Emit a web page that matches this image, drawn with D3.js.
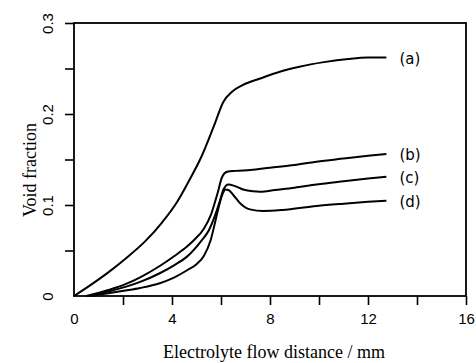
<!DOCTYPE html>
<html>
<head>
  <title>Void fraction</title>
  <script src="https://d3js.org/d3.v7.min.js"></script>
  <style>
    body { margin: 0; background: #fff; }
    svg { display: block; }
  </style>
</head>
<body>
  <svg width="476" height="363"></svg>

  <script>
    // values
    var labels = ["(a)", "(b)", "(c)", "(d)"];

    var xA = [0, 0.7, 1.4, 2.1, 2.9, 3.6, 4.2, 4.7, 5.2, 5.7, 6.1, 6.45, 6.9, 7.6, 8.4, 9.2, 10.2, 11.2, 12.0, 12.75];
    var yA = [0, 0.0125, 0.026, 0.041, 0.060, 0.081, 0.103, 0.127, 0.153, 0.186, 0.2135, 0.2245, 0.232, 0.239, 0.2465, 0.252, 0.257, 0.2605, 0.262, 0.262];

    var xB = [0.5, 1.4, 2.1, 2.7, 3.5, 4.1, 4.6, 4.9, 5.3, 5.6, 5.85, 6.05, 6.25, 6.6, 7.2, 8.0, 9.0, 9.9, 11.0, 12.0, 12.75];
    var yB = [0, 0.0066, 0.013, 0.0205, 0.033, 0.044, 0.054, 0.0615, 0.074, 0.090, 0.112, 0.131, 0.1365, 0.1375, 0.1385, 0.141, 0.144, 0.1476, 0.151, 0.154, 0.156];

    var xC = [0.6, 1.4, 2.1, 2.7, 3.5, 4.1, 4.6, 5.22, 5.5, 5.75, 5.95, 6.1, 6.3, 6.55, 6.9, 7.3, 7.6, 8.2, 9.0, 9.9, 11.0, 12.0, 12.75];
    var yC = [0, 0.005, 0.010, 0.0155, 0.025, 0.034, 0.043, 0.0615, 0.072, 0.088, 0.104, 0.117, 0.1225, 0.121, 0.117, 0.115, 0.1146, 0.1165, 0.119, 0.1225, 0.126, 0.129, 0.131];

    var xD = [0.7, 1.4, 2.1, 2.7, 3.5, 4.1, 4.6, 5.0, 5.3, 5.58, 5.75, 5.9, 6.05, 6.18, 6.3, 6.5, 6.78, 7.18, 7.73, 8.5, 9.9, 11.0, 12.0, 12.75];
    var yD = [0, 0.003, 0.006, 0.0088, 0.014, 0.0205, 0.028, 0.035, 0.044, 0.0615, 0.08, 0.097, 0.111, 0.117, 0.1165, 0.111, 0.102, 0.0952, 0.0934, 0.0945, 0.099, 0.1015, 0.1035, 0.1047];

    var xMinorTicks = [2, 4, 6, 8, 10, 12, 14, 16];
    var xLabelTicks = [0, 4, 8, 12, 16];
    var yMinorTicks = [0.05, 0.1, 0.15, 0.2, 0.25, 0.3];
    var yLabelTicks = [0, 0.1, 0.2, 0.3];

    var svg = d3.select("svg"),
        margin = {top: 23, right: 10, bottom: 67, left: 74},
        width = +svg.attr("width") - margin.left - margin.right,
        height = +svg.attr("height") - margin.top - margin.bottom;

    var x = d3.scaleLinear().domain([0, 16]).range([0, width]);
    var y = d3.scaleLinear().domain([0, 0.3]).range([height, 0]);

    var g = svg.append("g")
        .attr("transform", "translate(" + margin.left + "," + margin.top + ")");

    var series = [
      {name: labels[0], xs: xA, ys: yA},
      {name: labels[1], xs: xB, ys: yB},
      {name: labels[2], xs: xC, ys: yC},
      {name: labels[3], xs: xD, ys: yD}
    ].map(function(s) {
      s.points = s.xs.map(function(v, i) { return [v, s.ys[i]]; });
      return s;
    });

    var line = d3.line()
        .curve(d3.curveMonotoneX)
        .x(function(d) { return x(d[0]); })
        .y(function(d) { return y(d[1]); });

    // minor ticks
    g.append("g")
        .attr("transform", "translate(0," + height + ")")
        .call(d3.axisBottom(x).tickValues(xMinorTicks).tickSize(9).tickSizeOuter(0).tickFormat(""))
        .call(function(a) { a.select(".domain").remove(); })
        .selectAll("line").attr("stroke-width", 1.6);

    g.append("g")
        .call(d3.axisLeft(y).tickValues(yMinorTicks).tickSize(9).tickSizeOuter(0).tickFormat(""))
        .call(function(a) { a.select(".domain").remove(); })
        .selectAll("line").attr("stroke-width", 1.6);

    // tick labels
    g.append("g")
        .attr("transform", "translate(0," + height + ")")
        .call(d3.axisBottom(x).tickValues(xLabelTicks).tickSize(0).tickPadding(17).tickFormat(d3.format("d")))
        .call(function(a) { a.select(".domain").remove(); })
        .selectAll("text")
        .attr("font-family", "Liberation Sans, Arial, sans-serif")
        .attr("font-size", 15)
        .attr("fill", "#000");

    g.append("g")
        .call(d3.axisLeft(y).tickValues(yLabelTicks).tickSize(0).tickFormat(function(d) { return d === 0 ? "0" : d3.format(".1f")(d); }))
        .call(function(a) { a.select(".domain").remove(); })
        .selectAll("text")
        .attr("font-family", "Liberation Sans, Arial, sans-serif")
        .attr("font-size", 15)
        .attr("fill", "#000")
        .attr("text-anchor", "middle")
        .attr("transform", "rotate(-90)")
        .attr("x", 0)
        .attr("y", -21)
        .attr("dy", 0);

    // frame
    g.append("rect")
        .attr("width", width)
        .attr("height", height)
        .attr("fill", "none")
        .attr("stroke", "#000")
        .attr("stroke-width", 1.8);

    // curves
    g.selectAll("path.curve")
        .data(series)
        .enter()
        .append("path")
        .attr("class", "curve")
        .attr("fill", "none")
        .attr("stroke", "#000")
        .attr("stroke-width", 2)
        .attr("stroke-linejoin", "round")
        .attr("d", function(d) { return line(d.points); });

    g.selectAll("text.lab")
        .data(series)
        .enter()
        .append("text")
        .attr("class", "lab")
        .attr("x", function(d) { return x(d.xs[d.xs.length - 1]) + 13; })
        .attr("y", function(d) { return y(d.ys[d.ys.length - 1]) + 1; })
        .attr("dominant-baseline", "central")
        .attr("font-family", "DejaVu Sans, sans-serif")
        .attr("font-size", 15)
        .text(function(d) { return d.name; });

    // axis titles
    svg.append("text")
        .attr("x", 274)
        .attr("y", 358)
        .attr("text-anchor", "middle")
        .attr("font-family", "Liberation Serif, Times New Roman, serif")
        .attr("font-size", 18)
        .text("Electrolyte flow distance / mm");

    svg.append("text")
        .attr("transform", "translate(36," + (margin.top + 147) + ") rotate(-90)")
        .attr("text-anchor", "middle")
        .attr("font-family", "Liberation Serif, Times New Roman, serif")
        .attr("font-size", 18)
        .text("Void fraction");
  </script>
</body>
</html>
